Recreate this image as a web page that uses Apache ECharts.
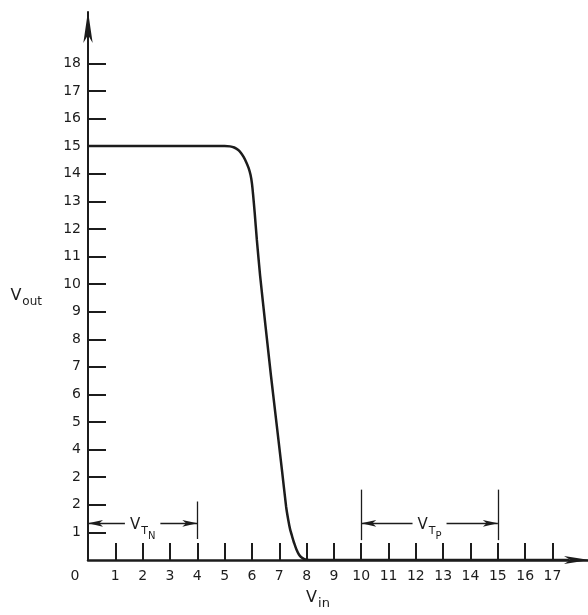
<!DOCTYPE html>
<html>
<head>
<meta charset="utf-8">
<script src="https://cdn.jsdelivr.net/npm/echarts@6/dist/echarts.min.js"></script>
<style>html,body{margin:0;padding:0;background:#fff}#c{width:588px;height:615px}</style>
</head>
<body>
<div id="c"></div>
<script>
// ---- data ----
const vin  = [0, 5.0, 5.2, 5.35, 5.5, 5.6, 5.7, 5.8, 5.88, 5.95, 6.0, 6.04, 6.1, 6.18, 6.3, 6.5, 6.7, 6.9, 7.1, 7.25, 7.33, 7.4, 7.47, 7.55, 7.63, 7.72, 7.82, 7.92, 8.02, 8.15, 17.6];
const vout = [15, 15, 14.99, 14.95, 14.86, 14.75, 14.6, 14.4, 14.2, 13.95, 13.65, 13.27, 12.6, 11.6, 10.3, 8.45, 6.65, 4.95, 3.25, 1.94, 1.45, 1.1, 0.86, 0.6, 0.38, 0.2, 0.09, 0.03, 0.01, 0, 0];
const xTickValues = [1, 2, 3, 4, 5, 6, 7, 8, 9, 10, 11, 12, 13, 14, 15, 16, 17];
const xLabelValues = [0, 1, 2, 3, 4, 5, 6, 7, 8, 9, 10, 11, 12, 13, 14, 15, 16, 17];
const yTickValues = [1, 2, 3, 4, 5, 6, 7, 8, 9, 10, 11, 12, 13, 14, 15, 16, 17, 18];
const yTickLabels = ['1', '2', '2', '4', '5', '6', '7', '8', '9', '10', '11', '12', '13', '14', '15', '16', '17', '18'];
const vtnRange = [0, 4];
const vtpRange = [10, 15];
const arrowLevel = 1.33;
const vtnBar = [0.76, 2.12];
const vtpBar = [0.72, 2.55];

const ink = '#1c1c1c';
const font = 'DejaVu Sans';
const chart = echarts.init(document.getElementById('c'));

const subRich = {
  v: {fontSize: 15, color: ink, fontFamily: font, verticalAlign: 'top', lineHeight: 16, padding: [0, 0, 0, 0]},
  t: {fontSize: 11, color: ink, fontFamily: font, verticalAlign: 'top', lineHeight: 12, padding: [8, 0, 0, 1]},
  n: {fontSize: 10, color: ink, fontFamily: font, verticalAlign: 'top', lineHeight: 11, padding: [14, 0, 0, 0]}
};

function arrowLine(a, b, name) {
  return [
    {coord: [a, arrowLevel], symbol: 'arrow', symbolSize: [5, 15]},
    {coord: [b, arrowLevel], symbol: 'arrow', symbolSize: [5, 15],
     label: {show: true, position: 'middle', formatter: name, rich: subRich, offset: [0, 17],
             backgroundColor: '#fff', padding: [2, 5, 2, 5]}}
  ];
}
function bar(x, r) {
  return [{coord: [x, r[0]], symbol: 'none'}, {coord: [x, r[1]], symbol: 'none'}];
}

chart.setOption({
  animation: false,
  backgroundColor: '#fff',
  grid: {left: 88, right: 0, top: 12, bottom: 51},
  xAxis: {
    type: 'value', min: 0, max: 18.3,
    interval: 1,
    splitLine: {show: false},
    axisLine: {show: true, onZero: false, lineStyle: {color: ink, width: 2.5},
               symbol: ['none', 'arrow'], symbolSize: [6, 26], symbolOffset: [0, 2]},
    axisTick: {show: true, inside: true, length: 17, lineStyle: {color: ink, width: 2},
               customValues: xTickValues},
    axisLabel: {show: true, margin: 9, color: ink, fontSize: 14, fontFamily: font,
                customValues: xLabelValues,
                formatter: v => v === 0 ? '{z|0}' : String(v),
                rich: {z: {fontSize: 14, color: ink, fontFamily: font, padding: [0, 26, 0, 0]}}},
    name: '{v|V}{s|in}',
    nameLocation: 'middle', nameGap: 30,
    nameTextStyle: {rich: {
      v: {fontSize: 16, color: ink, fontFamily: font, verticalAlign: 'top', lineHeight: 18},
      s: {fontSize: 13, color: ink, fontFamily: font, verticalAlign: 'top', lineHeight: 14, padding: [7, 0, 0, 1]}
    }, padding: [0, 40, 0, 0]}
  },
  yAxis: {
    type: 'value', min: 0, max: 19.86,
    interval: 1,
    splitLine: {show: false},
    axisLine: {show: true, onZero: false, lineStyle: {color: ink, width: 2},
               symbol: ['none', 'arrow'], symbolSize: [7, 32], symbolOffset: [0, 1]},
    axisTick: {show: true, inside: true, length: 18, lineStyle: {color: ink, width: 2},
               customValues: yTickValues},
    axisLabel: {show: true, margin: 7, color: ink, fontSize: 14, fontFamily: font,
                customValues: yTickValues,
                formatter: v => yTickLabels[yTickValues.indexOf(v)] || ''},
    name: '{v|V}{s|out}',
    nameLocation: 'middle', nameGap: 46, nameRotate: 0,
    nameTextStyle: {align: 'right', rich: {
      v: {fontSize: 16, color: ink, fontFamily: font, verticalAlign: 'top', lineHeight: 18},
      s: {fontSize: 12, color: ink, fontFamily: font, verticalAlign: 'top', lineHeight: 13, padding: [8, 0, 0, 1]}
    }, padding: [22, 0, 0, 0]}
  },
  series: [
    {
      type: 'line', data: vin.map((x, i) => [x, vout[i]]),
      showSymbol: false, smooth: 0.15,
      lineStyle: {color: ink, width: 2.5}, z: 3
    },
    {
      type: 'line', data: [], silent: true,
      markLine: {
        silent: true, animation: false,
        lineStyle: {color: ink, width: 1.3, type: 'solid'},
        label: {show: false},
        data: [
          arrowLine(vtnRange[0], vtnRange[1], '{v|V}{t|T}{n|N}'),
          arrowLine(vtpRange[0], vtpRange[1], '{v|V}{t|T}{n|P}'),
          bar(vtnRange[1], vtnBar),
          bar(vtpRange[0], vtpBar),
          bar(vtpRange[1], vtpBar)
        ]
      }
    }
  ]
});
</script>
</body>
</html>
